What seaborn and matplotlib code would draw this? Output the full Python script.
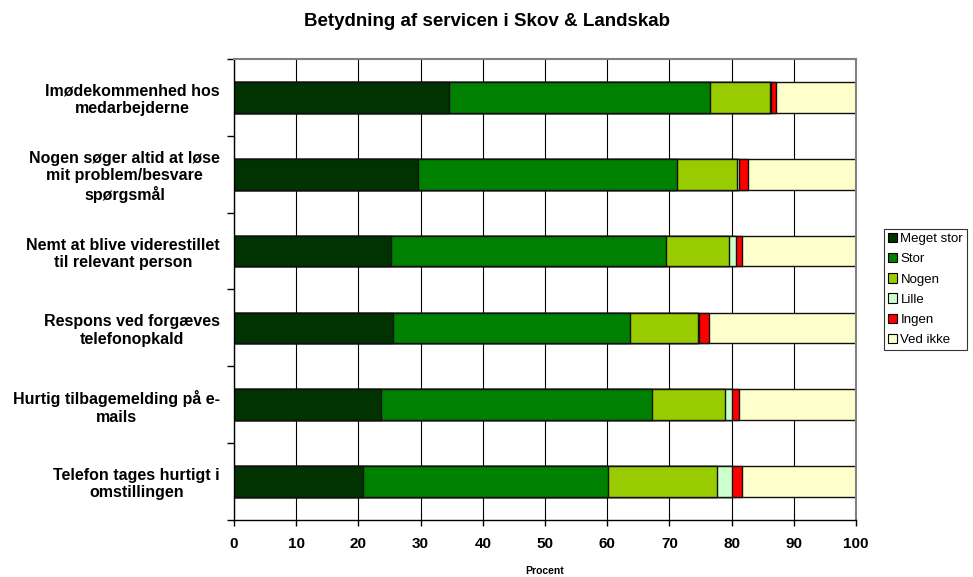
import matplotlib
matplotlib.use("Agg")
import matplotlib.pyplot as plt
from matplotlib.patches import Patch
import seaborn as sns
import pandas as pd
import numpy as np

# spørgsmål, oppefra og ned
questions = [
    "Imødekommenhed hos\nmedarbejderne",
    "Nogen søger altid at løse\nmit problem/besvare\nspørgsmål",
    "Nemt at blive viderestillet\ntil relevant person",
    "Respons ved forgæves\ntelefonopkald",
    "Hurtig tilbagemelding på e-\nmails",
    "Telefon tages hurtigt i\nomstillingen",
]

levels = ["Meget stor", "Stor", "Nogen", "Lille", "Ingen", "Ved ikke"]
colors = ["#003300", "#008000", "#99CC00", "#CCFFCC", "#FF0000", "#FFFFCC"]

meget_stor = [34.6, 29.6, 25.3, 25.6, 23.7, 20.7]
stor = [42.0, 41.7, 44.1, 38.1, 43.5, 39.5]
nogen = [9.5, 9.6, 10.2, 10.9, 11.8, 17.4]
lille = [0.3, 0.3, 1.1, 0.2, 1.1, 2.5]
ingen = [0.8, 1.5, 1.0, 1.6, 1.1, 1.5]
ved_ikke = [12.8, 17.3, 18.3, 23.6, 18.8, 18.4]

df = pd.DataFrame({
    "spørgsmål": questions,
    "Meget stor": meget_stor,
    "Stor": stor,
    "Nogen": nogen,
    "Lille": lille,
    "Ingen": ingen,
    "Ved ikke": ved_ikke,
})

sns.set_style("white")
plt.rcParams["font.family"] = ["Liberation Sans", "DejaVu Sans"]
plt.rcParams["text.color"] = "black"
plt.rcParams["axes.labelcolor"] = "black"
plt.rcParams["xtick.color"] = "black"
plt.rcParams["ytick.color"] = "black"

fig = plt.figure(figsize=(9.73, 5.77), dpi=100)
ax = fig.add_axes([234 / 973, 1 - 520 / 577, (856 - 234) / 973, (520 - 59) / 577])

# stablede søjler: tegn kumulative summer fra højre mod venstre
cum = df[levels].cumsum(axis=1)
for lvl, col in reversed(list(zip(levels, colors))):
    sns.barplot(x=cum[lvl], y=df["spørgsmål"], order=questions, orient="h",
                color=col, width=0.4, edgecolor="#111111", linewidth=1.0,
                saturation=1, ax=ax)

ax.set_xlim(0, 100)
ax.set_ylim(5.5, -0.5)
ax.set_xticks(np.arange(0, 101, 10))
ax.set_yticks(np.arange(-0.5, 6, 1), minor=True)
ax.grid(axis="x", color="black", linewidth=0.8)
ax.set_axisbelow(True)

ax.tick_params(axis="x", which="major", direction="out", length=4, width=1,
               color="black", labelsize=11, pad=8, bottom=True)
ax.tick_params(axis="y", which="major", length=0, pad=10, labelsize=11.5)
ax.tick_params(axis="y", which="minor", direction="out", length=5, width=1,
               color="black", left=True)
for lbl in ax.get_xticklabels():
    lbl.set_fontweight("bold")
for lbl in ax.get_yticklabels():
    lbl.set_fontweight("bold")
    lbl.set_multialignment("center")
    lbl.set_linespacing(1.2)

ax.set_ylabel("")
ax.set_xlabel("Procent", fontsize=7.5, fontweight="bold", labelpad=11)

for side in ["left", "bottom"]:
    ax.spines[side].set_color("black")
    ax.spines[side].set_linewidth(1.0)
for side in ["top", "right"]:
    ax.spines[side].set_visible(True)
    ax.spines[side].set_color("#808080")
    ax.spines[side].set_linewidth(1.5)

fig.text(487 / 973, 1 - 22 / 577, "Betydning af servicen i Skov & Landskab",
         ha="center", va="center", fontsize=13.5, fontweight="bold")

handles = [Patch(facecolor=c, edgecolor="black", linewidth=0.8, label=l)
           for l, c in zip(levels, colors)]
leg = fig.legend(handles=handles, loc="upper left",
                 bbox_to_anchor=(884 / 973, 1 - 229 / 577),
                 fontsize=9.5, frameon=True, fancybox=False, edgecolor="black",
                 handlelength=0.7, handleheight=0.7, handletextpad=0.25,
                 labelspacing=0.6, borderpad=0.3, borderaxespad=0)
leg.get_frame().set_linewidth(0.8)

fig.savefig("out.png", dpi=100)
